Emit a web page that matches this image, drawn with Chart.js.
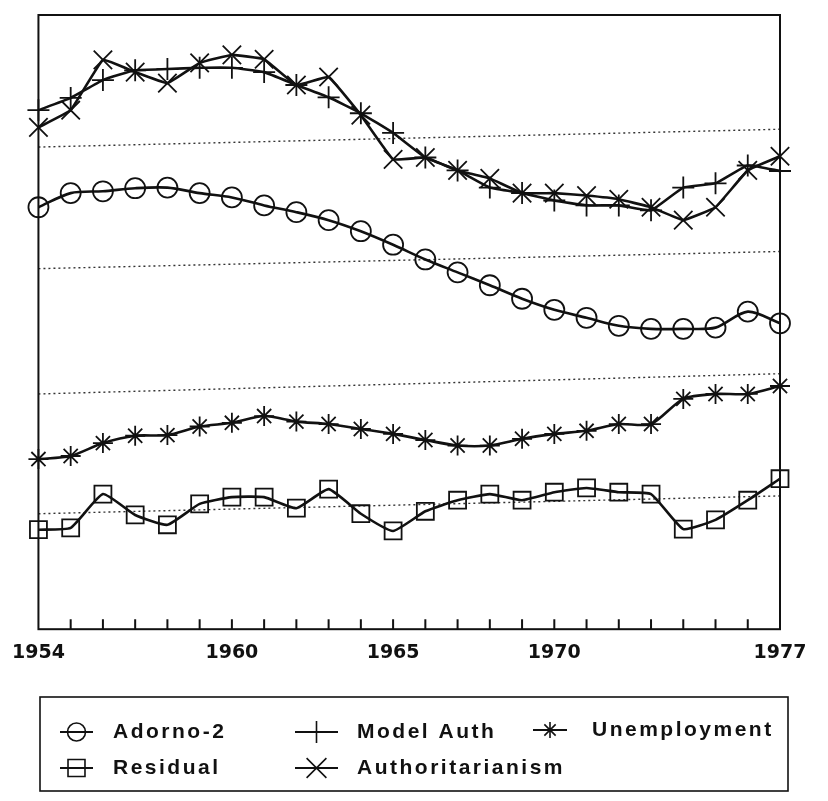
<!DOCTYPE html>
<html>
<head>
<meta charset="utf-8">
<script src="https://cdn.jsdelivr.net/npm/chart.js@4.4.1/dist/chart.umd.min.js"></script>
<style>
    html, body { margin: 0; padding: 0; background: #fff; }
    #wrap { width: 828px; height: 801px; position: relative; }
</style>
</head>
<body>
<div id="wrap"><canvas id="chart"></canvas></div>
<script>
// Años del eje X y etiquetas visibles
const years = [1954, 1955, 1956, 1957, 1958, 1959, 1960, 1961, 1962, 1963, 1964, 1965,
               1966, 1967, 1968, 1969, 1970, 1971, 1972, 1973, 1974, 1975, 1976, 1977];
const tickYears = [1954, 1960, 1965, 1970, 1977];

// Series (unidades arbitrarias, el original no tiene eje Y rotulado)
const adorno2 = [68.7, 71.0, 71.3, 71.8, 71.9, 71.0, 70.3, 69.0, 67.9, 66.6, 64.8, 62.6,
                 60.2, 58.1, 56.0, 53.8, 52.0, 50.7, 49.4, 48.9, 48.9, 49.1, 51.7, 49.8];
const modelAuth = [84.5, 86.5, 89.4, 91.0, 91.2, 91.4, 91.4, 90.7, 88.6, 86.6, 84.0, 80.8,
                   76.8, 74.7, 71.9, 71.0, 69.8, 69.0, 69.0, 68.2, 71.9, 72.6, 75.5, 74.6];
const authoritarianism = [81.7, 84.5, 92.7, 90.7, 88.9, 92.2, 93.5, 92.8, 88.6, 89.9, 83.7, 76.5,
                          76.8, 74.7, 73.4, 71.0, 71.0, 70.6, 70.0, 68.7, 66.6, 68.7, 74.7, 77.0];
const unemployment = [27.7, 28.2, 30.3, 31.5, 31.6, 33.0, 33.6, 34.7, 33.8, 33.4, 32.6, 31.8,
                      30.8, 29.9, 29.9, 31.0, 31.8, 32.3, 33.4, 33.4, 37.5, 38.3, 38.3, 39.6];
const residual = [16.2, 16.5, 22.0, 18.6, 17.0, 20.4, 21.5, 21.5, 19.7, 22.8, 18.8, 16.0,
                  19.2, 21.0, 22.0, 21.0, 22.3, 23.0, 22.3, 22.0, 16.3, 17.8, 21.0, 24.5];

// Líneas punteadas de referencia (valor en 1954 y en 1977)
const refStart = [78.5, 58.7, 38.3, 18.8];
const refEnd = [81.4, 61.5, 41.6, 21.7];

const INK = '#111';

function toPoints(values) {
    return values.map((v, i) => ({ x: years[i], y: v }));
}

function series(label, values, pointStyle, radius, tension) {
    return {
        label, data: toPoints(values), borderColor: INK, borderWidth: 2.6,
        pointStyle, pointRadius: radius, pointBorderWidth: 1.8,
        pointBorderColor: INK, pointBackgroundColor: 'rgba(0,0,0,0)',
        tension, clip: false
    };
}

const dataSets = [
    series('Adorno-2', adorno2, 'circle', 10, 0.3),
    series('Model Auth', modelAuth, 'cross', 11, 0.12),
    series('Unemployment', unemployment, 'star', 10, 0.25),
    series('Residual', residual, 'rect', 12, 0.15),
    series('Authoritarianism', authoritarianism, 'crossRot', 13, 0.08)
];

refStart.forEach((v, i) => {
    dataSets.push({
        label: 'ref' + i,
        data: [{ x: years[0], y: v }, { x: years[years.length - 1], y: refEnd[i] }],
        borderColor: '#333', borderWidth: 1.4, borderDash: [2, 3],
        pointRadius: 0, tension: 0
    });
});

// Marco del área de la gráfica + marcas hacia adentro en cada año
const framePlugin = {
    id: 'frame',
    afterDraw(chart) {
        const { ctx, chartArea: a, scales } = chart;
        ctx.save();
        ctx.strokeStyle = INK;
        ctx.lineWidth = 2;
        ctx.strokeRect(a.left, a.top, a.right - a.left, a.bottom - a.top);
        ctx.beginPath();
        years.slice(1, -1).forEach((yr) => {
            const x = scales.x.getPixelForValue(yr);
            ctx.moveTo(x, a.bottom);
            ctx.lineTo(x, a.bottom - 10);
        });
        ctx.stroke();
        ctx.restore();
    }
};

// Leyenda en recuadro (dos filas, como en el original)
// x1/x2 = tramo de línea del símbolo, tx = inicio del texto
const legendLayout = [
    { idx: 0, y: 732, x1: 60, x2: 93, tx: 113 },
    { idx: 1, y: 732, x1: 295, x2: 338, tx: 357 },
    { idx: 2, y: 730, x1: 533, x2: 567, tx: 592 },
    { idx: 3, y: 768, x1: 60, x2: 93, tx: 113 },
    { idx: 4, y: 768, x1: 295, x2: 338, tx: 357 }
];
const legendRadius = [9, 11, 8, 12, 14];

const legendPlugin = {
    id: 'boxLegend',
    afterDraw(chart) {
        const ctx = chart.ctx;
        ctx.save();
        ctx.strokeStyle = INK;
        ctx.lineWidth = 1.6;
        ctx.strokeRect(40, 697, 748, 94);
        legendLayout.forEach((it) => {
            const ds = chart.data.datasets[it.idx];
            ctx.lineWidth = 2;
            ctx.beginPath();
            ctx.moveTo(it.x1, it.y);
            ctx.lineTo(it.x2, it.y);
            ctx.stroke();
            ctx.fillStyle = 'rgba(0,0,0,0)';
            ctx.lineWidth = 1.6;
            Chart.helpers.drawPoint(ctx, { pointStyle: ds.pointStyle, radius: legendRadius[it.idx], rotation: 0, borderWidth: 1.6 }, (it.x1 + it.x2) / 2, it.y);
            ctx.fillStyle = INK;
            ctx.font = 'bold 21px "Liberation Sans"';
            ctx.letterSpacing = '2.5px';
            ctx.textBaseline = 'middle';
            ctx.fillText(ds.label, it.tx, it.y);
        });
        ctx.restore();
    }
};

new Chart(document.getElementById('chart'), {
    type: 'line',
    data: { datasets: dataSets },
    options: {
        responsive: true, maintainAspectRatio: false, animation: false, devicePixelRatio: 1,
        layout: { padding: { left: 34, right: 48, top: 15, bottom: 125 } },
        plugins: { legend: { display: false }, tooltip: { enabled: false } },
        scales: {
            x: {
                type: 'linear', min: 1954, max: 1977,
                grid: { display: false, drawTicks: false },
                border: { display: false },
                afterBuildTicks: (axis) => { axis.ticks = tickYears.map((v) => ({ value: v })); },
                ticks: {
                    padding: 12, color: INK, maxRotation: 0, autoSkip: false,
                    font: { family: 'DejaVu Sans', weight: 'bold', size: 19 },
                    callback: (v) => String(v)
                }
            },
            y: { display: false, min: 0, max: 100 }
        }
    },
    plugins: [framePlugin, legendPlugin]
});
</script>
</body>
</html>
